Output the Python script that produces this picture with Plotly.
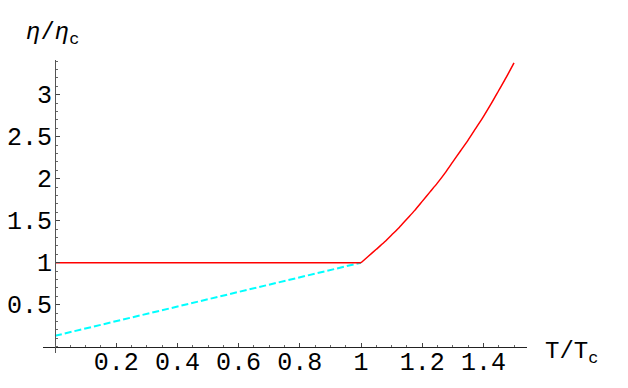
import plotly.graph_objects as go

# data
below_T = [0.0, 1.0]
below_eta_red = [1.0, 1.0]
below_eta_cyan = [0.13, 1.0]
above_T = [1.0, 1.025, 1.05, 1.075, 1.10, 1.125, 1.15, 1.175, 1.20, 1.225, 1.25,
           1.275, 1.30, 1.325, 1.35, 1.375, 1.40, 1.425, 1.45, 1.475, 1.50]
above_eta = [1.00, 1.08, 1.16, 1.24, 1.33, 1.42, 1.52, 1.62, 1.73, 1.84, 1.95,
             2.07, 2.20, 2.33, 2.46, 2.60, 2.74, 2.89, 3.05, 3.21, 3.38]
x_tickvals = [0.2, 0.4, 0.6, 0.8, 1.0, 1.2, 1.4]
x_ticktext = ["0.2", "0.4", "0.6", "0.8", "1", "1.2", "1.4"]
y_tickvals = [0.5, 1.0, 1.5, 2.0, 2.5, 3.0]
y_ticktext = ["0.5", "1", "1.5", "2", "2.5", "3"]

OFF = 8  # default body margin of the html page
W, H = 628 - OFF, 388 - OFF
ml, mr, mt, mb = 43 - OFF, 101, 60 - OFF, 35
pw, ph = W - ml - mr, H - mt - mb
xr = [-12 / 306, (527 - 55) / 306]
yr = [(346.7 - 353) / 84, (346.7 - 60) / 84]

def px(xp):
    return (xp - OFF - ml) / pw

def py(yp):
    return (H - mb - (yp - OFF)) / ph

fig = go.Figure()
fig.add_trace(go.Scatter(x=below_T, y=below_eta_cyan, mode="lines",
                         line=dict(color="#00ffff", width=2, dash="7px,3px"), showlegend=False))
fig.add_trace(go.Scatter(x=below_T, y=below_eta_red, mode="lines",
                         line=dict(color="#ff0000", width=1.5), showlegend=False))
fig.add_trace(go.Scatter(x=above_T, y=above_eta, mode="lines", line_shape="spline",
                         line=dict(color="#ff0000", width=1.5, smoothing=0.6), showlegend=False))

xpos = (0 - xr[0]) / (xr[1] - xr[0])
ypos = (0 - yr[0]) / (yr[1] - yr[0])
mono = "Courier New, Nimbus Mono PS, Liberation Mono, monospace"
tickfont = dict(family=mono, size=25, color="black")

fig.update_layout(
    width=W, height=H, margin=dict(l=ml, r=mr, t=mt, b=mb),
    paper_bgcolor="white", plot_bgcolor="white",
    xaxis=dict(range=xr, anchor="free", position=ypos, showgrid=False, zeroline=False,
               showline=True, linecolor="#222", linewidth=1,
               tickmode="array", tickvals=x_tickvals, ticktext=x_ticktext,
               ticks="inside", ticklen=4, tickcolor="#444", tickfont=tickfont,
               ticklabelstandoff=-8,
               minor=dict(dtick=0.05, tick0=0, ticks="inside", ticklen=2, tickcolor="#666"),
               automargin=False),
    yaxis=dict(range=yr, anchor="free", position=xpos, showgrid=False, zeroline=False,
               showline=True, linecolor="#555", linewidth=1,
               tickmode="array", tickvals=y_tickvals, ticktext=y_ticktext,
               ticks="inside", ticklen=4, tickcolor="#444", tickfont=tickfont,
               ticklabelstandoff=-2,
               minor=dict(dtick=0.1, tick0=0, ticks="inside", ticklen=2, tickcolor="#666"),
               automargin=False),
    annotations=[
        dict(xref="paper", yref="paper", x=px(24), y=py(17), xanchor="left", yanchor="top",
             text="<i>η</i>/<i>η</i><sub>c</sub>",
             showarrow=False, font=dict(family=mono, size=24, color="black")),
        dict(xref="paper", yref="paper", x=px(543), y=py(336), xanchor="left", yanchor="top",
             text="T/T<sub>c</sub>",
             showarrow=False, font=dict(family=mono, size=24, color="black")),
    ],
)

fig.write_html("out.html")
